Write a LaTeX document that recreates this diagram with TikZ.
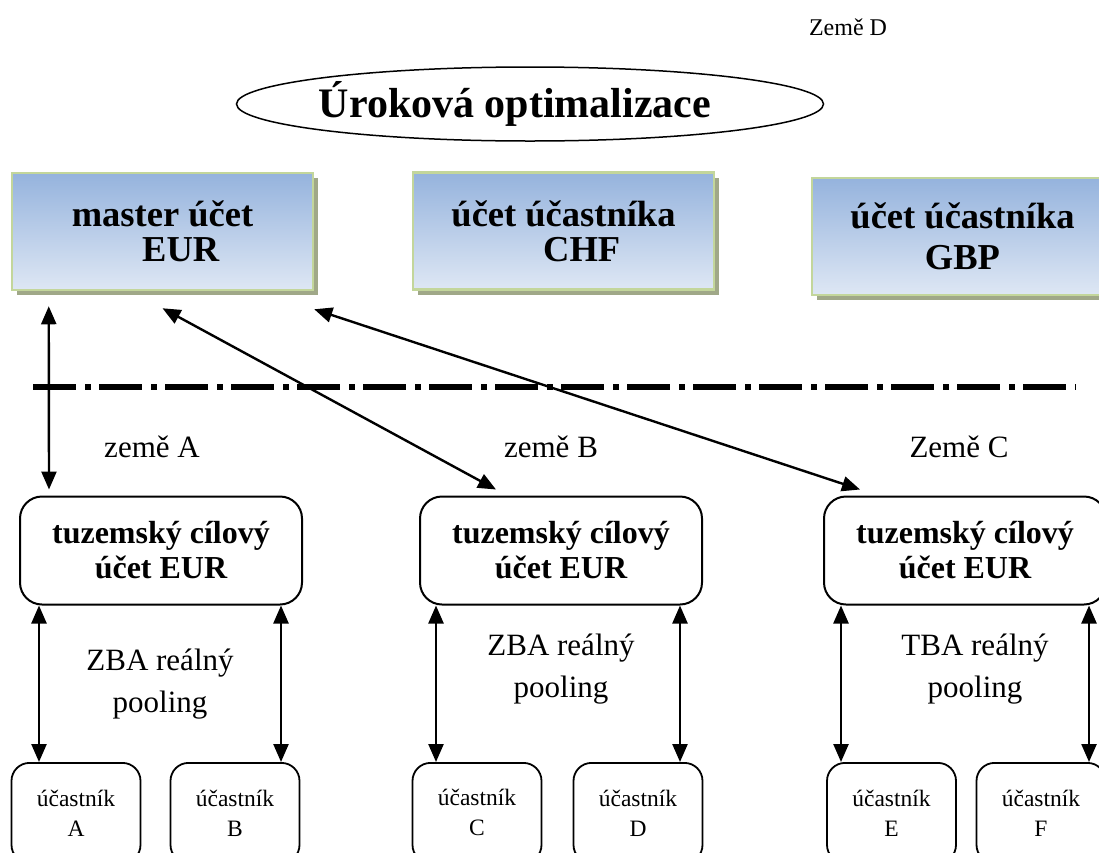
\documentclass[tikz,border=0pt]{standalone}
\usepackage{fontspec}
\setmainfont{Liberation Serif}
\usetikzlibrary{arrows.meta,positioning,shapes.geometric,shadows}
\definecolor{acctblue}{RGB}{149,179,221}
\definecolor{acctlight}{RGB}{222,231,244}
\definecolor{acctedge}{RGB}{195,214,155}
\definecolor{acctshade}{RGB}{160,168,136}

\begin{document}
\begin{tikzpicture}[x=1pt,y=-1pt,
goal/.style={ellipse,draw,line width=1.5pt,minimum width=587pt,minimum height=74pt,inner sep=0pt,font=\bfseries\fontsize{42}{42}\selectfont},
acct/.style={draw=acctedge,line width=2.5pt,top color=acctblue,bottom color=acctlight,minimum width=301pt,minimum height=117pt,inner sep=0pt,align=center,font=\bfseries\fontsize{36.5}{35}\selectfont,drop shadow={shadow xshift=5pt,shadow yshift=-5pt,fill=acctshade,opacity=1}},
local/.style={draw,rounded corners=22pt,line width=2pt,minimum width=282pt,minimum height=108pt,inner sep=0pt,align=center,font=\bfseries\fontsize{32}{35}\selectfont},
member/.style={draw,rounded corners=18pt,line width=1.8pt,anchor=north,minimum width=129pt,minimum height=100pt,inner sep=0pt,align=center,font=\fontsize{23.5}{30}\selectfont},
country/.style={font=\fontsize{31}{36}\selectfont},
pool/.style={align=center,font=\fontsize{31}{42}\selectfont},
dbl/.style={{Triangle[length=18pt,width=15pt]}-{Triangle[length=18pt,width=15pt]},line width=2.4pt},
sepline/.style={line width=6.5pt,dash pattern=on 43pt off 9pt on 6pt off 8pt},
]
\useasboundingbox (0,0) rectangle (1099,852);
\node[country,font=\fontsize{24}{28}\selectfont] (landD) at (848,27) {Země D};
\node[goal] (goal) at (530,104) {\hspace*{-15pt}Úroková optimalizace\hspace*{15pt}};
\node[acct] (master) at (162.5,231.5) {master účet\\\hspace*{1em}EUR};
\node[acct] (chf) at (563.5,231) {účet účastníka\\\hspace*{1em}CHF};
\node[acct] (gbp) at (962.5,236.5) {účet účastníka\\[6pt]GBP};
\draw[sepline] (33,387) -- (1076,387);
\node[country] (landA) at (152,447) {země A};
\node[country] (landB) at (551,447) {země B};
\node[country] (landC) at (959,447) {Země C};
\node[local] (tzA) at (161,550.5) {tuzemský cílový\\účet EUR};
\node[local] (tzB) at (561,550.5) {tuzemský cílový\\účet EUR};
\node[local] (tzC) at (965,550.5) {tuzemský cílový\\účet EUR};
\node[pool] (poolA) at (160,684) {ZBA reálný\\pooling};
\node[pool] (poolB) at (561,669) {ZBA reálný\\pooling};
\node[pool] (poolC) at (975,669) {TBA reálný\\pooling};
\node[member] (mA) at (76,762) {účastník\\A};
\node[member] (mB) at (235,762) {účastník\\B};
\node[member] (mC) at (477,762) {účastník\\C};
\node[member] (mD) at (638,762) {účastník\\D};
\node[member] (mE) at (891.5,762) {účastník\\E};
\node[member] (mF) at (1041,762) {účastník\\F};
\draw[dbl] ([xshift=38pt,yshift=-15pt]master.south west) -- ([xshift=30pt,yshift=6pt]tzA.north west);
\draw[dbl] ([yshift=-17pt]master.south) -- ([xshift=77pt,yshift=6pt]tzB.north west);
\draw[dbl] ([yshift=-18pt]master.south east) -- ([xshift=37pt,yshift=6pt]tzC.north west);
\draw[dbl] ([xshift=20pt]tzA.south west) -- ([xshift=20pt]tzA.south west |- mA.north);
\draw[dbl] ([xshift=-22pt]tzA.south east) -- ([xshift=-22pt]tzA.south east |- mB.north);
\draw[dbl] ([xshift=17pt]tzB.south west) -- ([xshift=17pt]tzB.south west |- mC.north);
\draw[dbl] ([xshift=-23pt]tzB.south east) -- ([xshift=-23pt]tzB.south east |- mD.north);
\draw[dbl] ([xshift=18pt]tzC.south west) -- ([xshift=18pt]tzC.south west |- mE.north);
\draw[dbl] ([xshift=-18pt]tzC.south east) -- ([xshift=-18pt]tzC.south east |- mF.north);
\end{tikzpicture}
\end{document}
